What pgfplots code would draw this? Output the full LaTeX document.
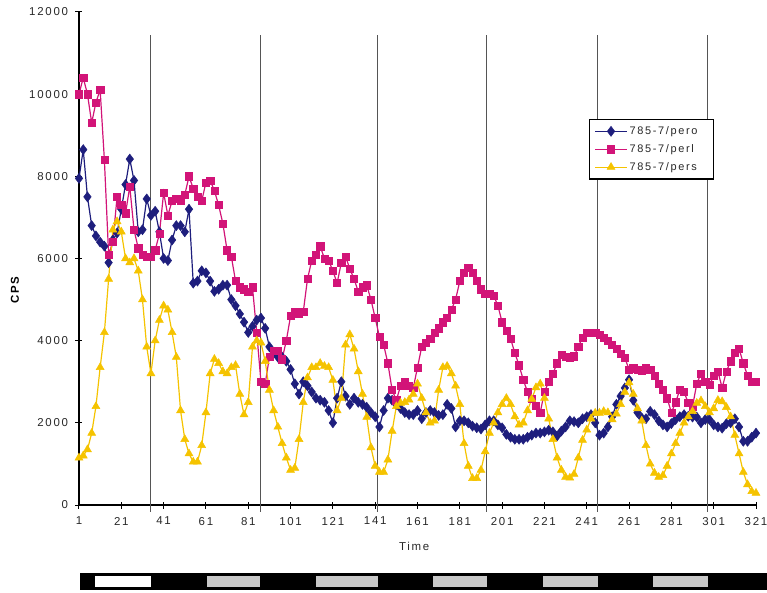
\documentclass[border=0pt]{standalone}
\usepackage{fontspec}
\setmainfont{Liberation Sans}
\newfontfamily\spaced[LetterSpace=15]{Liberation Sans}
\usepackage{pgfplots}
\usepackage{pgfplotstable}
\pgfplotsset{compat=1.18}
\definecolor{cblue}{RGB}{30,30,125}
\definecolor{cpink}{RGB}{210,20,120}
\definecolor{cyel}{RGB}{245,195,0}
\definecolor{cgrid}{RGB}{85,85,85}
\definecolor{ctext}{RGB}{40,40,40}
\definecolor{cbar}{RGB}{200,200,200}
\pgfplotstableread{
x blue pink yellow
1 7950 10000 1150
3 8650 10400 1200
5 7500 10000 1350
7 6800 9300 1750
9 6550 9800 2400
11 6400 10100 3350
13 6300 8400 4200
15 5900 6100 5500
17 6450 6400 6700
19 6620 7500 6900
21 7200 7300 6650
23 7800 7100 6000
25 8420 7750 5900
27 7900 6700 6000
29 6650 6250 5700
31 6700 6100 5000
33 7450 6050 3850
35 7050 6050 3200
37 7150 6200 4000
39 6650 6600 4500
41 6000 7600 4850
43 5950 7050 4750
45 6450 7400 4200
47 6800 7450 3600
49 6800 7400 2300
51 6650 7550 1600
53 7200 8000 1250
55 5400 7700 1050
57 5450 7500 1050
59 5700 7400 1450
61 5650 7850 2250
63 5450 7900 3200
65 5200 7650 3550
67 5250 7300 3450
69 5350 6850 3250
71 5350 6200 3200
73 5000 6050 3350
75 4850 5450 3400
77 4650 5300 2700
79 4450 5250 2200
81 4200 5200 2500
83 4350 5300 3850
85 4500 4200 4000
87 4550 3000 3950
89 4300 2950 3500
91 3850 3600 2800
93 3700 3750 2300
95 3600 3750 1900
97 3600 3550 1500
99 3500 4000 1150
101 3300 4600 850
103 2950 4700 900
105 2700 4650 1600
107 3000 4700 2500
109 2900 5500 3100
111 2750 5950 3350
113 2600 6100 3350
115 2550 6300 3450
117 2500 6000 3380
119 2300 5950 3350
121 2000 5700 3040
123 2600 5400 2300
125 3000 5900 2600
127 2650 6050 3900
129 2450 5750 4150
131 2600 5500 3800
133 2500 5200 3250
135 2450 5300 2700
137 2380 5350 2140
139 2250 5000 1400
141 2150 4550 950
143 1900 4100 800
145 2300 3900 800
147 2600 3450 1100
149 2550 2800 1800
151 2450 2550 2400
153 2350 2900 2480
155 2250 3000 2500
157 2200 2900 2560
159 2200 2850 2700
161 2300 3350 2950
163 2100 3850 2600
165 2250 3950 2250
167 2300 4050 2000
169 2250 4200 2050
171 2180 4300 2800
173 2200 4450 3350
175 2450 4550 3380
177 2350 4750 3200
179 1900 5000 2900
181 2050 5450 2450
183 2050 5650 1500
185 2000 5780 950
187 1920 5650 650
189 1880 5450 650
191 1850 5250 850
193 1950 5150 1300
195 2050 5150 1750
197 2050 5100 2000
199 1950 4850 2250
201 1880 4450 2450
203 1720 4250 2600
205 1650 4050 2450
207 1600 3700 2150
209 1600 3400 1950
211 1600 3050 2000
213 1650 2750 2300
215 1700 2580 2580
217 1750 2420 2860
219 1750 2250 2950
221 1780 2750 2600
223 1820 3000 2100
225 1780 3200 1600
227 1680 3450 1150
229 1800 3650 850
231 1900 3600 680
233 2050 3580 660
235 2030 3620 750
237 2000 3850 1150
239 2100 4080 1580
241 2150 4200 1830
243 2200 4200 2100
245 2000 4200 2240
247 1700 4150 2240
249 1750 4080 2280
251 1900 4000 2250
253 2150 3900 2080
255 2450 3800 2220
257 2650 3680 2450
259 2850 3580 2750
261 3050 3300 2980
263 2550 3330 2700
265 2250 3300 2350
267 2120 3280 2050
269 2100 3350 1450
271 2280 3300 1000
273 2200 3150 780
275 2050 2950 680
277 1950 2800 720
279 1900 2600 950
281 1980 2250 1250
283 2080 2500 1500
285 2150 2800 1750
287 2200 2750 2000
289 2160 2480 2150
291 2140 2400 2280
293 2140 2950 2480
295 2000 3200 2540
297 2080 3000 2400
299 2080 2920 2250
301 1950 3150 2350
303 1900 3250 2550
305 1870 2850 2520
307 1980 3250 2380
309 2000 3500 2150
311 2100 3700 1700
313 1900 3800 1250
315 1550 3450 800
317 1550 3150 500
319 1650 3000 330
321 1750 3000 290
}\datatable
\begin{document}
\begin{tikzpicture}
\path[use as bounding box] (-79bp,-88bp) rectangle (688bp,505bp);
\begin{axis}[
  at={(0,0)}, anchor=south west,
  scale only axis, width=677bp, height=493bp,
  xmin=1, xmax=321, ymin=0, ymax=12000,
  clip=false,
  scaled y ticks=false, scaled x ticks=false,
  axis x line*=bottom, axis y line*=left,
  axis line style={black, line width=1.2bp},
  xtick={1,21,...,321}, ytick={0,2000,...,12000},
  tick align=center, major tick length=7bp,
  tick style={black, line width=1bp},
  /pgf/number format/assume math mode=true,
  /pgf/number format/1000 sep={},
  ticklabel style={font=\spaced\fontsize{11.5}{13}\selectfont, text=ctext},
  xticklabel style={yshift=-5bp},
  yticklabel style={xshift=-4bp},
  xlabel={Time},
  xlabel style={font=\spaced\fontsize{11.5}{13}\selectfont, text=ctext, at={(axis description cs:0.495,-0.083)}, anchor=center},
  ylabel={CPS},
  ylabel style={font=\spaced\bfseries\fontsize{11.5}{13}\selectfont, text=black, at={(axis description cs:-0.0945,0.436)}, anchor=center},
  legend style={at={(axis description cs:0.753,0.783)}, anchor=north west,
    draw=black, line width=1.3bp, fill=white,
    font=\spaced\fontsize{11}{13}\selectfont, text=ctext,
    row sep=4.5bp, inner xsep=5bp, inner ysep=5bp},
  legend cell align=left,
  legend image code/.code={\draw[line width=1.2bp, mark repeat=2, mark phase=2] plot coordinates {(0bp,0bp) (16bp,0bp) (32bp,0bp)};},
]
\addplot[forget plot, color=cgrid, line width=1bp] coordinates {(35,-170) (35,11450)};
\addplot[forget plot, color=cgrid, line width=1bp] coordinates {(87,-170) (87,11450)};
\addplot[forget plot, color=cgrid, line width=1bp] coordinates {(142.3,-170) (142.3,11450)};
\addplot[forget plot, color=cgrid, line width=1bp] coordinates {(193.8,-170) (193.8,11450)};
\addplot[forget plot, color=cgrid, line width=1bp] coordinates {(246.3,-170) (246.3,11450)};
\addplot[forget plot, color=cgrid, line width=1bp] coordinates {(298.3,-170) (298.3,11450)};
\addplot[color=cblue, line width=1.2bp, mark=diamond*, mark size=5bp, mark options={fill=cblue, draw=cblue, line width=0.5bp}] table[x=x, y=blue] {\datatable};
\addlegendentry{\makebox[77bp][l]{785-7/pero}}
\addplot[color=cpink, line width=1.2bp, mark=square*, mark size=3.6bp, mark options={fill=cpink, draw=cpink, line width=0.5bp}] table[x=x, y=pink] {\datatable};
\addlegendentry{\makebox[77bp][l]{785-7/perl}}
\addplot[color=cyel, line width=1.2bp, mark=triangle*, mark size=4.6bp, mark options={fill=cyel, draw=cyel, line width=0.5bp}] table[x=x, y=yellow] {\datatable};
\addlegendentry{\makebox[77bp][l]{785-7/pers}}
% light/dark bar
\fill[black] (axis cs:1.5,-1655) rectangle (axis cs:327,-2069);
\fill[white] (axis cs:8.6,-1720) rectangle (axis cs:35,-2000);
\fill[cbar] (axis cs:61.5,-1720) rectangle (axis cs:86.5,-2000);
\fill[cbar] (axis cs:113,-1720) rectangle (axis cs:142.3,-2000);
\fill[cbar] (axis cs:168.3,-1720) rectangle (axis cs:193.8,-2000);
\fill[cbar] (axis cs:220.3,-1720) rectangle (axis cs:246.3,-2000);
\fill[cbar] (axis cs:272.3,-1720) rectangle (axis cs:298.3,-2000);
\end{axis}
\end{tikzpicture}
\end{document}
